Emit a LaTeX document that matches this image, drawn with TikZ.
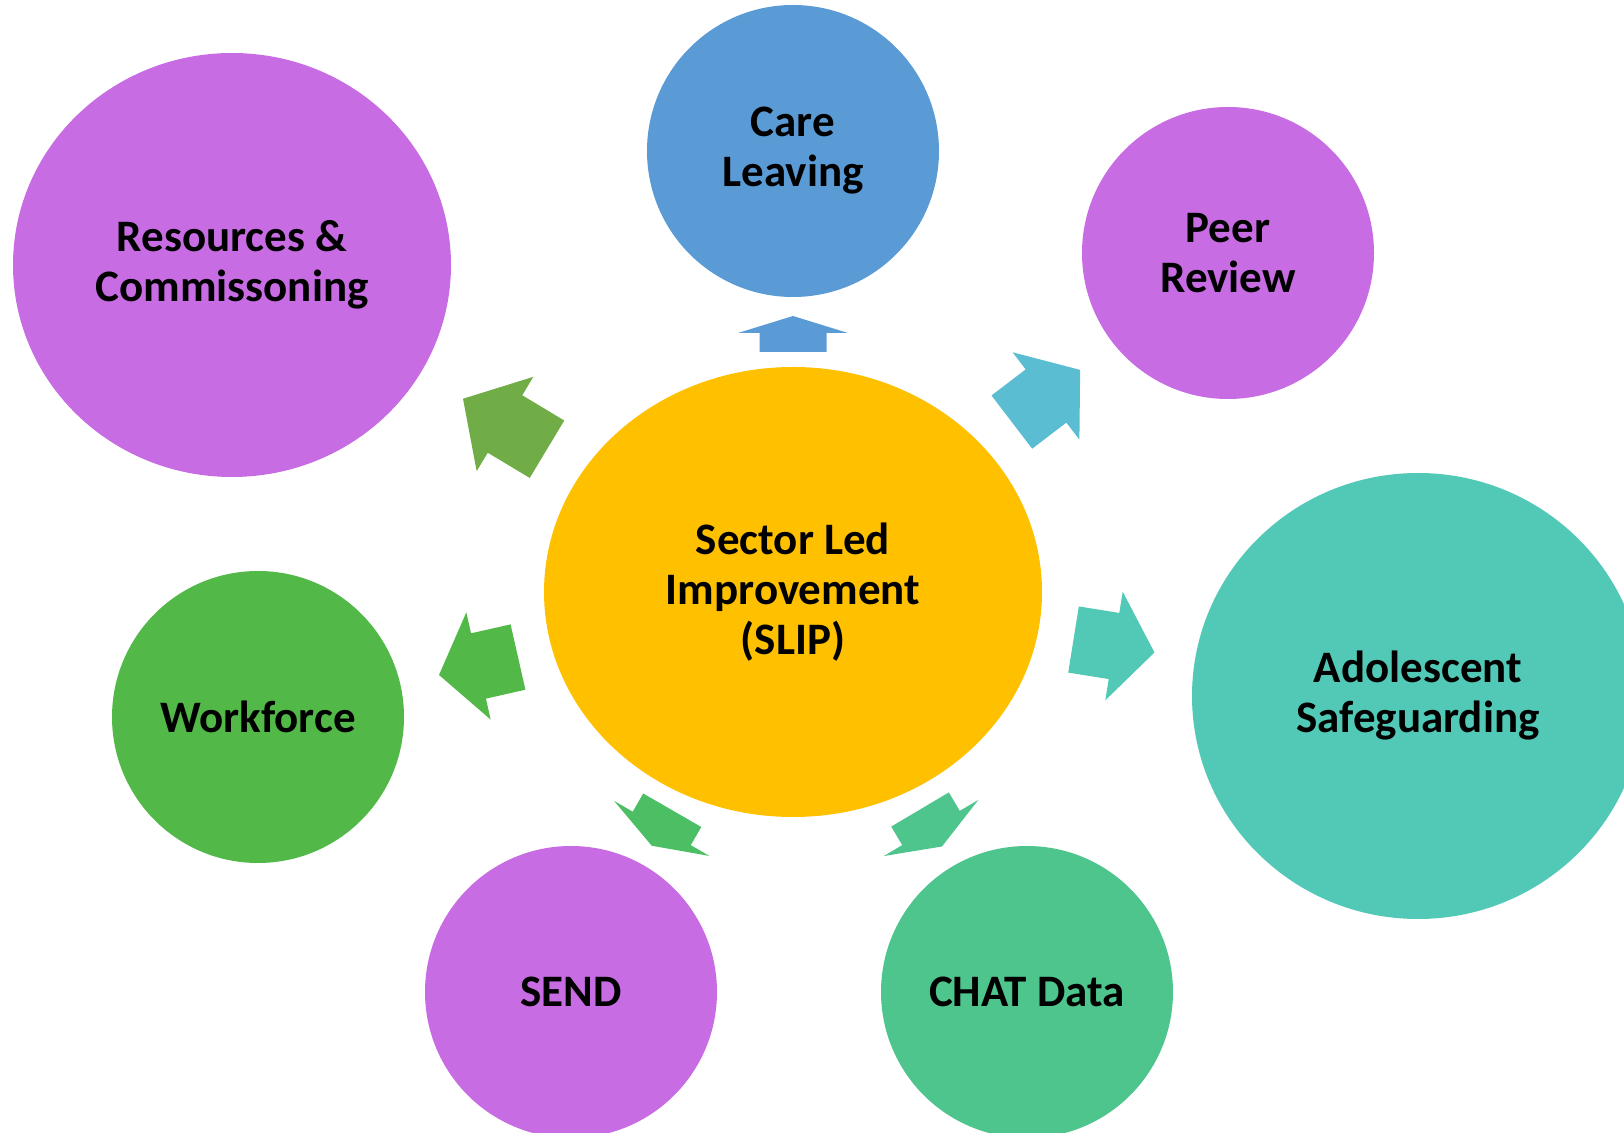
\documentclass[tikz,border=0pt]{standalone}
\usepackage{fontspec}
\setmainfont{Carlito}
\usetikzlibrary{shapes.geometric}
\definecolor{slipgold}{RGB}{255,192,0}
\definecolor{topicpurple}{RGB}{200,108,227}
\definecolor{topicblue}{RGB}{91,155,213}
\definecolor{topicteal}{RGB}{82,201,183}
\definecolor{topicgreen}{RGB}{82,184,72}
\definecolor{topicmint}{RGB}{78,197,141}
\definecolor{arrowcyan}{RGB}{91,189,209}
\definecolor{arrowolive}{RGB}{112,173,71}
\definecolor{arrowleaf}{RGB}{76,190,100}
% x, y, angle, length, head length, colour
\newcommand{\blockarrow}[6]{ \fill[#6, shift={(#1,#2)}, rotate=#3] ({-#4/2},-33.5) -- ({#4/2-#5},-33.5) -- ({#4/2-#5},-55) -- ({#4/2},0) -- ({#4/2-#5},55) -- ({#4/2-#5},33.5) -- ({-#4/2},33.5) -- cycle;}
\tikzset{bubble/.style={ellipse, inner sep=0pt, align=center,
    font=\fontsize{22.5}{25}\selectfont\bfseries}}

\begin{document}
\begin{tikzpicture}[x=0.5pt,y=-0.5pt]
        \useasboundingbox (0,0) rectangle (1624,1133);
        \clip (0,0) rectangle (1624,1133);
        % hub
        \node[bubble, fill=slipgold, minimum width=249pt, minimum height=225pt] (slip) at (793,592) {Sector Led\\Improvement\\(SLIP)};
        % topics
        \node[bubble, fill=topicblue, minimum size=146pt] (care) at (793,151) {Care\\Leaving};
        \node[bubble, fill=topicpurple, minimum size=146pt] (peer) at (1228,253) {Peer\\Review};
        \node[bubble, fill=topicpurple, minimum width=219pt, minimum height=212pt] (resources) at (232,265) {Resources \&\\Commissoning};
        \node[bubble, fill=topicgreen, minimum size=146pt] (workforce) at (258,717) {Workforce};
        \node[bubble, fill=topicteal, minimum width=226pt, minimum height=223pt] (adolescent) at (1418,696) {Adolescent\\Safeguarding};
        \node[bubble, fill=topicpurple, minimum size=146pt] (send) at (571,992) {SEND};
        \node[bubble, fill=topicmint, minimum size=146pt] (chat) at (1027,992) {CHAT Data};
        % arrows
        \blockarrow{793}{334}{90}{36}{17}{topicblue}
        \blockarrow{1046}{396}{37.4}{86}{43}{arrowcyan}
        \blockarrow{505}{424}{149}{98}{49}{arrowolive}
        \blockarrow{478.5}{666}{192.8}{81}{40.5}{topicgreen}
        \blockarrow{1114}{646}{-9.1}{82}{41}{topicteal}
        \blockarrow{662}{828}{240}{41}{20}{arrowleaf}
        \blockarrow{931}{828}{-59.3}{43}{21.5}{topicmint}
\end{tikzpicture}
\end{document}
